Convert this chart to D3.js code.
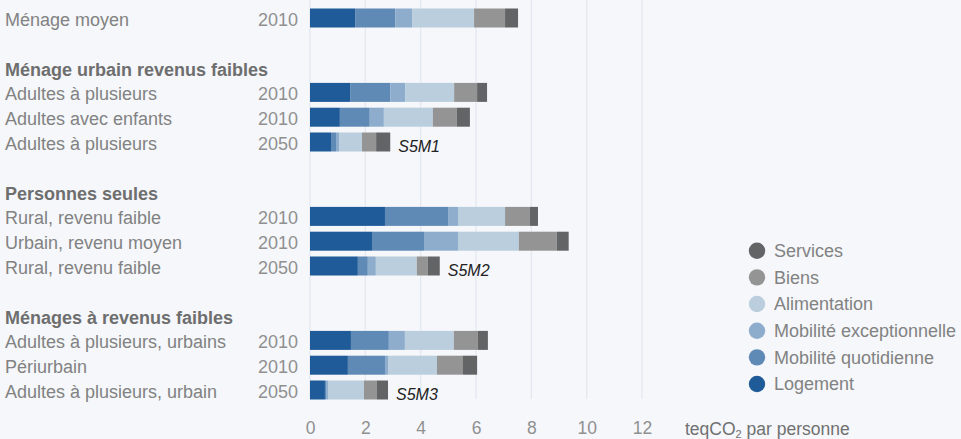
<!DOCTYPE html>
<html><head><meta charset="utf-8">
<script src="https://cdn.jsdelivr.net/npm/d3@7"></script>
<style>
html,body{margin:0;padding:0;background:#f5f7fb;}
svg{display:block;font-family:"Liberation Sans",Arial,sans-serif;}
</style></head>
<body>
<svg id="chart" width="961" height="439"></svg>
<script>
// ---- data ----
const categories = ["Logement","Mobilité quotidienne","Mobilité exceptionnelle","Alimentation","Biens","Services"];
const groupTitles = [null, "Ménage urbain revenus faibles", "Personnes seules", "Ménages à revenus faibles"];
const rowLabels = ["Ménage moyen","Adultes à plusieurs","Adultes avec enfants","Adultes à plusieurs",
  "Rural, revenu faible","Urbain, revenu moyen","Rural, revenu faible",
  "Adultes à plusieurs, urbains","Périurbain","Adultes à plusieurs, urbain"];
const rowYears = ["2010","2010","2010","2050","2010","2010","2050","2010","2010","2050"];
const rowGroup = [0,1,1,1,2,2,2,3,3,3];
const scenarios = ["","","","S5M1","","","S5M2","","","S5M3"];
const logement      = [1.63,1.45,1.08,0.76,2.71,2.24,1.73,1.48,1.37,0.54];
const mobQuotidienne= [1.45,1.45,1.08,0.18,2.28,1.88,0.36,1.37,1.34,0.04];
const mobExcept     = [0.61,0.54,0.51,0.11,0.36,1.23,0.29,0.58,0.11,0.07];
const alimentation  = [2.24,1.77,1.77,0.83,1.70,2.20,1.48,1.77,1.77,1.30];
const biens         = [1.12,0.83,0.87,0.51,0.90,1.37,0.40,0.87,0.94,0.47];
const services      = [0.47,0.36,0.47,0.51,0.29,0.43,0.43,0.36,0.51,0.40];
const xTicks = [0,2,4,6,8,10,12];
const axisTitle = "par personne";

// ---- styles ----
const colors = ["#1f5b98","#5f8ab6","#8eadcd","#bacede","#949494","#636466"];
const series = [logement, mobQuotidienne, mobExcept, alimentation, biens, services];

// ---- layout: slot per line (row / header / gap) ----
const slotOfRow = [], headerSlots = [];
let slot = 0, prevGroup = rowGroup[0];
rowGroup.forEach((g,i)=>{
  if (i===0 && groupTitles[g]) { headerSlots.push({g, s:slot}); slot++; }
  if (i>0 && g!==prevGroup) { slot++; headerSlots.push({g, s:slot}); slot++; }
  slotOfRow.push(slot); slot++; prevGroup = g;
});
const lastSlot = slot-1;

const svg = d3.select("#chart");
const x = d3.scaleLinear().domain([0,12]).range([310,642]);
const yText = d3.scaleLinear().domain([0,lastSlot]).range([26,398]);
const barH = 19, barShift = 8;

const data = rowLabels.map((l,i)=>{
  const d = {label:l, year:rowYears[i], scen:scenarios[i], slot:slotOfRow[i]};
  categories.forEach((c,k)=> d[c] = series[k][i]);
  return d;
});
const stack = d3.stack().keys(categories)(data);

// grid
svg.append("g").selectAll("line").data(xTicks).join("line")
  .attr("x1",d=>x(d)).attr("x2",d=>x(d)).attr("y1",0).attr("y2",399)
  .attr("stroke","#e2e8f0").attr("stroke-width",1.2);

// axis ticks labels
const axis = d3.axisBottom(x).tickValues(xTicks).tickSize(0).tickPadding(0).tickFormat(d3.format("d"));
const ax = svg.append("g").attr("transform","translate(0,422)").call(axis);
ax.select(".domain").remove();
ax.selectAll("text").attr("font-size",17.5).attr("fill","#909090").attr("dy","0.71em")
  .attr("font-family","Liberation Sans, Arial, sans-serif");

const t = svg.append("text").attr("x",685).attr("y",434.5).attr("font-size",17.5).attr("fill","#707070");
t.append("tspan").text("teqCO");
t.append("tspan").attr("font-size",11).attr("dy",3.5).text("2");
t.append("tspan").attr("dy",-3.5).text(" " + axisTitle);

// bars
svg.append("g").selectAll("g").data(stack).join("g")
  .attr("fill",(d,i)=>colors[i])
  .selectAll("rect").data(d=>d).join("rect")
  .attr("x",d=>x(d[0])).attr("width",d=>x(d[1])-x(d[0]))
  .attr("y",d=>yText(d.data.slot)-barShift-barH/2).attr("height",barH);

// scenario labels
svg.append("g").selectAll("text").data(data.filter(d=>d.scen)).join("text")
  .attr("x",d=>x(d3.sum(categories,c=>d[c]))+8)
  .attr("y",d=>yText(d.slot)+1.5)
  .attr("font-size",16).attr("font-style","italic").attr("fill","#222")
  .text(d=>d.scen);

// row labels
svg.append("g").selectAll("text").data(data).join("text")
  .attr("x",5).attr("y",d=>yText(d.slot)).attr("font-size",18).attr("fill","#828282")
  .text(d=>d.label);
svg.append("g").selectAll("text").data(data).join("text")
  .attr("x",298).attr("y",d=>yText(d.slot)).attr("font-size",18).attr("fill","#909090")
  .attr("text-anchor","end").text(d=>d.year);
// headers
svg.append("g").selectAll("text").data(headerSlots).join("text")
  .attr("x",5).attr("y",d=>yText(d.s)).attr("font-size",18).attr("font-weight","bold").attr("fill","#6e6e6e")
  .text(d=>groupTitles[d.g]);

// legend
const legendItems = categories.map((c,i)=>({c, col:colors[i]})).reverse();
const ly = d3.scaleLinear().domain([0,legendItems.length-1]).range([250.7,384]);
const lg = svg.append("g").selectAll("g").data(legendItems).join("g")
  .attr("transform",(d,i)=>`translate(757,${ly(i)})`);
lg.append("circle").attr("r",8.2).attr("fill",d=>d.col);
lg.append("text").attr("x",17).attr("y",6.2).attr("font-size",18).attr("fill","#828282").text(d=>d.c);
</script>
</body></html>
